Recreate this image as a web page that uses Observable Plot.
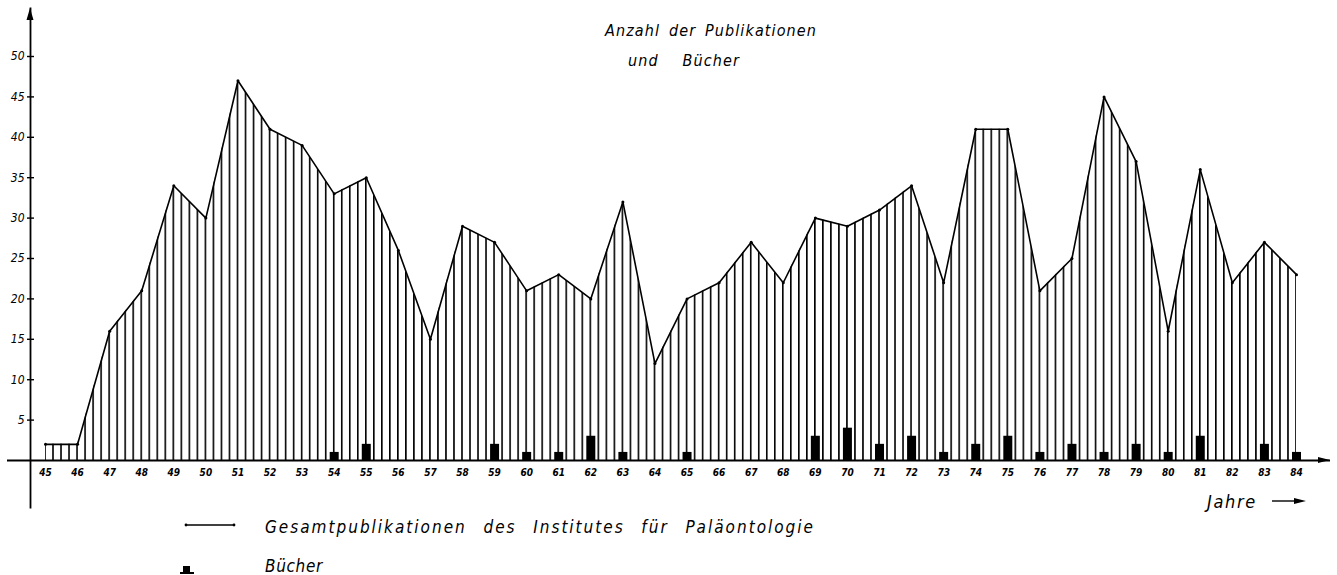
<!DOCTYPE html>
<html><head><meta charset="utf-8">
<script src="https://cdn.jsdelivr.net/npm/d3@7"></script>
<script src="https://cdn.jsdelivr.net/npm/@observablehq/plot@0.6"></script>
<style>
body{margin:0;background:#fff;}
#wrap{position:relative;width:1337px;height:575px;overflow:hidden;font-family:"Liberation Sans Narrow","DejaVu Sans Condensed","DejaVu Sans",sans-serif;font-style:italic;color:#000;}
.t{position:absolute;white-space:nowrap;line-height:1;}
</style></head><body><div id="wrap"></div>
<script>
// ---- data ----
const years = [45,46,47,48,49,50,51,52,53,54,55,56,57,58,59,60,61,62,63,64,65,66,67,68,69,70,71,72,73,74,75,76,77,78,79,80,81,82,83,84];
const publications = [2,2,16,21,34,30,47,41,39,33,35,26,15,29,27,21,23,20,32,12,20,22,27,22,30,29,31,34,22,41,41,21,25,45,37,16,36,22,27,23];
const books = [0,0,0,0,0,0,0,0,0,1,2,0,0,0,2,1,1,3,1,0,1,0,0,0,3,4,2,3,1,2,3,1,2,1,2,1,3,0,2,1];
const yTicks = [5,10,15,20,25,30,35,40,45,50];
const titleLines = ["Anzahl der Publikationen", "und Bücher"];
const legendLabels = ["Gesamtpublikationen des Institutes für Paläontologie", "Bücher"];
const xAxisLabel = "Jahre";

const data = years.map((year, i) => ({year, pubs: publications[i], books: books[i]}));
const font = '"Liberation Sans Narrow","DejaVu Sans Condensed","DejaVu Sans",sans-serif';

const chart = Plot.plot({
  width: 1337, height: 575,
  marginLeft: 30, marginRight: 7, marginTop: 8, marginBottom: 68,
  x: {domain: [45, 84], range: [45, 1296], axis: null},
  y: {domain: [0, 50], range: [460, 56]},
  style: {fontFamily: font, fontStyle: "italic", fontSize: "12px", color: "#000", background: "#fff", overflow: "visible"},
  marks: [
    Plot.areaY(data, {x: "year", y: "pubs", fill: "url(#hatch)"}),
    Plot.line(data, {x: "year", y: "pubs", stroke: "#000", strokeWidth: 1.6}),
    Plot.dot(data, {x: "year", y: "pubs", r: 1.5, fill: "#000"}),
    Plot.ruleX(data.filter(d => d.books > 0), {x: "year", y: "books", stroke: "#000", strokeWidth: 9}),
    Plot.frame({anchor: "left", stroke: "#000", strokeWidth: 1.8}),
    Plot.ruleY([0], {stroke: "#000", strokeWidth: 1.8, insetLeft: -23}),
    Plot.axisY({ticks: yTicks, tickSize: 7, dx: 4, tickPadding: 3, label: null, fontSize: 12, stroke: "#000", strokeWidth: 1.4}),
    Plot.text(years, {x: d => d, y: () => 0, dy: 12, text: d => String(d), fontSize: 10, fontWeight: "bold"})
  ]
});

// hatch pattern aligned to quarter years
const xs = chart.scale("x");
const step = (xs.apply(46) - xs.apply(45)) / 4;
const svg = d3.select(chart);
const defs = svg.insert("defs", ":first-child");
defs.append("pattern").attr("id", "hatch").attr("patternUnits", "userSpaceOnUse")
  .attr("x", xs.apply(45) - 0.8).attr("y", 0).attr("width", step).attr("height", 10)
  .append("rect").attr("width", 1.6).attr("height", 10).attr("fill", "#000");

// axis arrowheads (at frame edges)
const fLeft = 30, fTop = 8, fRight = 1337 - 7, fBase = chart.scale("y").apply(0);
svg.append("path").attr("d", `M${fLeft},${fTop} L${fLeft - 3.5},${fTop + 12} L${fLeft + 3.5},${fTop + 12} Z`).attr("fill", "#000");
svg.append("path").attr("d", `M${fRight},${fBase} L${fRight - 12},${fBase - 3} L${fRight - 12},${fBase + 3} Z`).attr("fill", "#000");

const wrap = document.getElementById("wrap");
wrap.appendChild(chart);
chart.style.position = "absolute"; chart.style.left = "0"; chart.style.top = "0";

function addText(txt, x, baseline, size, width, ls) {
  const el = document.createElement("div");
  el.className = "t";
  el.textContent = txt;
  el.style.fontSize = size + "px";
  wrap.appendChild(el);
  el.style.left = x + "px";
  el.style.top = (baseline - size * 0.78) + "px";
  if (width) {
    const gaps = txt.split(" ").length - 1;
    if (ls != null && gaps > 0) {
      el.style.letterSpacing = ls + "px";
      const w = el.getBoundingClientRect().width;
      el.style.wordSpacing = ((width - w) / gaps) + "px";
    } else {
      const w = el.getBoundingClientRect().width;
      el.style.letterSpacing = ((width - w) / txt.length) + "px";
    }
  }
  return el;
}

addText(titleLines[0], 605, 35, 16, 212, 1.1);
addText(titleLines[1], 628, 65, 16, 112, 1.1);
addText(xAxisLabel, 1207, 507, 18, 50);
addText(legendLabels[0], 265, 532, 17, 550, 2);
addText(legendLabels[1], 265, 571, 17, 58);

// small legend symbols + Jahre arrow
const ov = d3.select(wrap).append("svg").attr("width", 1337).attr("height", 575)
  .style("position", "absolute").style("left", 0).style("top", 0).style("pointer-events", "none");
ov.append("line").attr("x1", 186).attr("x2", 234).attr("y1", 525).attr("y2", 525).attr("stroke", "#000").attr("stroke-width", 1.4);
ov.append("circle").attr("cx", 186).attr("cy", 525).attr("r", 1.4);
ov.append("circle").attr("cx", 234).attr("cy", 525).attr("r", 1.4);
ov.append("rect").attr("x", 183).attr("y", 566).attr("width", 7).attr("height", 7);
ov.append("rect").attr("x", 180).attr("y", 572).attr("width", 14).attr("height", 2);
ov.append("line").attr("x1", 1272).attr("x2", 1296).attr("y1", 501).attr("y2", 501).attr("stroke", "#000").attr("stroke-width", 1.4);
ov.append("path").attr("d", "M1306,501 L1294,498 L1294,504 Z");
</script>
</body></html>
